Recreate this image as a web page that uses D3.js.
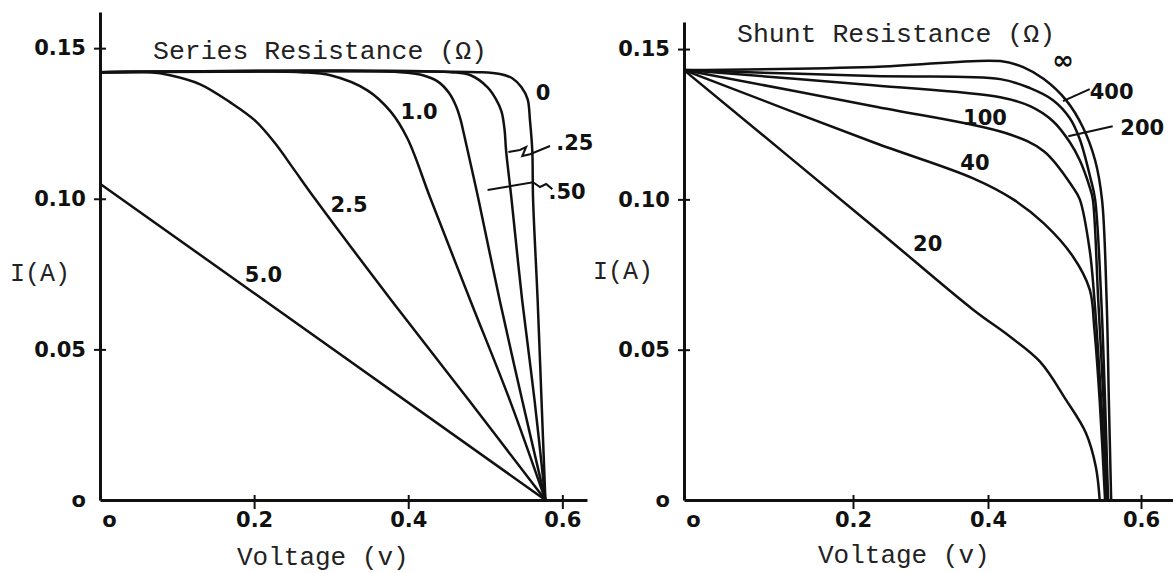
<!DOCTYPE html>
<html>
<head>
<meta charset="utf-8">
<script src="https://d3js.org/d3.v7.min.js"></script>
<style>
  body { margin: 0; background: #fff; }
  svg { display: block; }
</style>
</head>
<body>
<svg width="1173" height="573"></svg>
<script>
  // values, each point is [voltage (V), current (A)]
  var seriesNames = ["0", ".25", ".50", "1.0", "2.5", "5.0"];
  var rs0   = [[0,0.142],[0.494,0.142],[0.519,0.1414],[0.535,0.140],[0.547,0.137],[0.555,0.133],[0.558,0.126],[0.561,0.116],[0.562,0.100],[0.568,0.066],[0.573,0.033],[0.578,0]];
  var rs025 = [[0,0.142],[0.455,0.142],[0.481,0.141],[0.503,0.137],[0.514,0.133],[0.521,0.129],[0.525,0.123],[0.527,0.116],[0.534,0.100],[0.548,0.066],[0.564,0.033],[0.578,0]];
  var rs050 = [[0,0.142],[0.390,0.142],[0.419,0.141],[0.439,0.1388],[0.453,0.1351],[0.462,0.1308],[0.468,0.1262],[0.472,0.1218],[0.491,0.100],[0.519,0.066],[0.548,0.033],[0.578,0]];
  var rs1   = [[0,0.142],[0.260,0.142],[0.299,0.141],[0.347,0.136],[0.377,0.129],[0.399,0.120],[0.429,0.100],[0.481,0.066],[0.532,0.033],[0.578,0]];
  var rs25  = [[0,0.142],[0.065,0.142],[0.091,0.141],[0.130,0.138],[0.169,0.132],[0.201,0.126],[0.227,0.1185],[0.251,0.110],[0.279,0.100],[0.379,0.066],[0.479,0.033],[0.578,0]];
  var rs5   = [[0,0.105],[0.578,0]];

  var shuntNames = ["\u221e", "400", "200", "100", "40", "20"];
  var rshInf = [[0,0.143],[0.230,0.144],[0.416,0.146],[0.446,0.144],[0.473,0.140],[0.502,0.133],[0.524,0.124],[0.540,0.113],[0.549,0.100],[0.555,0.067],[0.558,0.033],[0.561,0]];
  var rsh400 = [[0,0.143],[0.230,0.141],[0.416,0.140],[0.455,0.137],[0.485,0.133],[0.507,0.127],[0.520,0.120],[0.534,0.107],[0.540,0.100],[0.548,0.067],[0.553,0.033],[0.557,0]];
  var rsh200 = [[0,0.143],[0.230,0.138],[0.416,0.134],[0.455,0.131],[0.485,0.126],[0.507,0.119],[0.520,0.113],[0.533,0.104],[0.537,0.100],[0.544,0.067],[0.551,0.033],[0.556,0]];
  var rsh100 = [[0,0.143],[0.230,0.131],[0.424,0.122],[0.473,0.116],[0.511,0.104],[0.520,0.100],[0.533,0.083],[0.539,0.067],[0.548,0.033],[0.555,0]];
  var rsh40  = [[0,0.143],[0.230,0.119],[0.378,0.107],[0.433,0.100],[0.473,0.092],[0.511,0.081],[0.533,0.070],[0.539,0.057],[0.546,0.033],[0.553,0]];
  var rsh20  = [[0,0.143],[0.230,0.091],[0.378,0.0633],[0.429,0.0543],[0.468,0.046],[0.502,0.0333],[0.528,0.0223],[0.541,0.011],[0.546,0]];

  var xTicks = [0, 0.2, 0.4, 0.6];
  var xTickLabels = ["o", "0.2", "0.4", "0.6"];
  var yTicks = [0, 0.05, 0.10, 0.15];
  var yTickLabels = ["o", "0.05", "0.10", "0.15"];

  var svg = d3.select("svg");
  var ink = "#111";
  var mono = "'Liberation Mono', 'DejaVu Sans Mono', monospace";
  var hand = "'DejaVu Sans', sans-serif";

  function drawPanel(p) {
    var x = p.x, y = p.y;
    var g = svg.append("g");

    // axes with cross ticks
    var xAxis = g.append("g")
      .attr("transform", "translate(0," + y(0) + ")")
      .call(d3.axisBottom(x).tickValues(xTicks).tickSizeOuter(0)
        .tickFormat(function (d, i) { return xTickLabels[i]; }));
    var yAxis = g.append("g")
      .attr("transform", "translate(" + x(0) + ",0)")
      .call(d3.axisLeft(y).tickValues(yTicks).tickSizeOuter(0)
        .tickFormat(function (d, i) { return yTickLabels[i]; }));

    [xAxis, yAxis].forEach(function (a) {
      a.select(".domain").attr("stroke", ink).attr("stroke-width", 3);
      a.selectAll(".tick line").attr("stroke", ink).attr("stroke-width", 2)
        .attr("display", function (d) { return d === 0 ? "none" : null; });
      a.selectAll(".tick text")
        .attr("fill", ink)
        .style("font-family", hand)
        .style("font-weight", "bold")
        .style("font-size", "21px");
    });
    xAxis.selectAll(".tick line").attr("y1", -5).attr("y2", 9);
    xAxis.selectAll(".tick text").attr("y", 12)
      .attr("dx", function (d) { return d === 0 ? 9 : 0; });
    yAxis.selectAll(".tick line").attr("x1", -6).attr("x2", 6);
    yAxis.selectAll(".tick text").attr("x", -14);

    // curves
    var line = d3.line()
      .x(function (d) { return x(d[0]); })
      .y(function (d) { return y(d[1]); })
      .curve(d3.curveCatmullRom.alpha(0.5));

    g.append("g").selectAll("path.curve")
      .data(p.curves)
      .enter()
      .append("path")
      .attr("class", "curve")
      .attr("d", line)
      .attr("fill", "none")
      .attr("stroke", ink)
      .attr("stroke-width", 2.5)
      .attr("stroke-linejoin", "round");

    // curve labels
    g.append("g").selectAll("text")
      .data(p.names)
      .enter()
      .append("text")
      .attr("x", function (d, i) { return x(p.labelAt[i][0]); })
      .attr("y", function (d, i) { return y(p.labelAt[i][1]); })
      .attr("text-anchor", function (d, i) { return p.labelAt[i][2] || "start"; })
      .style("font-family", hand)
      .style("font-weight", "bold")
      .style("font-size", function (d) { return d === "\u221e" ? "26px" : "21px"; })
      .attr("fill", ink)
      .text(function (d) { return d; });

    // little pointer strokes
    g.append("g").selectAll("path.pointer")
      .data(p.pointers)
      .enter()
      .append("path")
      .attr("class", "pointer")
      .attr("d", d3.line().x(function (d) { return x(d[0]); }).y(function (d) { return y(d[1]); }))
      .attr("fill", "none")
      .attr("stroke", ink)
      .attr("stroke-width", 2);

    // texts
    g.append("text")
      .attr("x", p.title[1]).attr("y", p.title[2])
      .style("font-family", mono).style("font-size", "26.5px")
      .attr("fill", "#222")
      .text(p.title[0]);
    g.append("text")
      .attr("x", p.ylab[0]).attr("y", p.ylab[1])
      .style("font-family", mono).style("font-size", "25px")
      .attr("fill", "#222")
      .text("I(A)");
    g.append("text")
      .attr("x", p.xlab[0]).attr("y", p.xlab[1])
      .style("font-family", mono).style("font-size", "26px")
      .attr("fill", "#222")
      .text("Voltage (v)");
  }

  // left: series resistance
  drawPanel({
    x: d3.scaleLinear().domain([0, 0.632]).range([100, 587]),
    y: d3.scaleLinear().domain([0, 0.162]).range([500, 12]),
    curves: [rs0, rs025, rs050, rs1, rs25, rs5],
    names: seriesNames,
    labelAt: [[0.575, 0.1328, "middle"], [0.592, 0.1162], [0.582, 0.0999], [0.390, 0.1265], [0.299, 0.0956], [0.188, 0.0724]],
    pointers: [
      [[0.530,0.1155],[0.545,0.1162],[0.553,0.1172],[0.548,0.1142],[0.558,0.1148],[0.584,0.1175]],
      [[0.503,0.1029],[0.562,0.1055],[0.571,0.1039],[0.579,0.1049],[0.587,0.1032]]
    ],
    title: ["Series Resistance (\u03a9)", 153, 59],
    ylab: [10, 281],
    xlab: [237, 565]
  });

  // right: shunt resistance
  drawPanel({
    x: d3.scaleLinear().domain([0, 0.2, 0.4, 0.6, 0.642]).range([684, 853, 988, 1141, 1173]),
    y: d3.scaleLinear().domain([0, 0.159]).range([500, 22]),
    curves: [rshInf, rsh400, rsh200, rsh100, rsh40, rsh20],
    names: shuntNames,
    labelAt: [[0.498, 0.1433, "middle"], [0.533, 0.1333], [0.573, 0.1213], [0.363, 0.1247], [0.359, 0.1097], [0.289, 0.0827]],
    pointers: [
      [[0.498,0.1327],[0.533,0.1367]],
      [[0.505,0.1210],[0.563,0.1243]]
    ],
    title: ["Shunt Resistance (\u03a9)", 737, 42],
    ylab: [593, 279],
    xlab: [818, 563]
  });
</script>
</body>
</html>
